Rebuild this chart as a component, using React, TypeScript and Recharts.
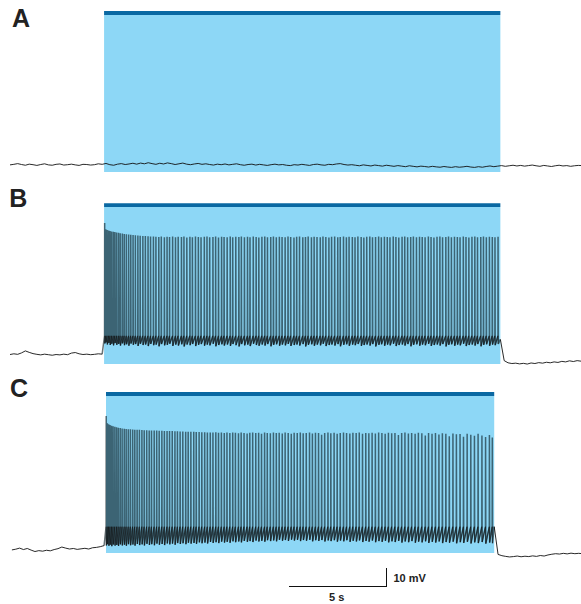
import React from "react";
import { ComposedChart, Line, XAxis, YAxis, ReferenceArea } from "recharts";

// Three current-clamp recordings, each with a 20 s stimulation window.
// Time in seconds, membrane potential in mV.

const STEP = 0.2; // sampling step of the resting stretches

// A: no firing, whole sweep sampled every STEP from t = 0
const traceA = [
  -61.6, -61.3, -60.9, -61.4, -61.8, -61.2, -61.5, -61.9, -61.4, -61.0,
  -61.6, -61.8, -61.3, -61.1, -61.7, -61.5, -61.2, -61.6, -61.9, -61.3,
  -61.4, -61.7, -61.5, -61.0, -61.3, -60.8, -61.5, -61.8, -61.2, -60.9,
  -61.4, -61.1, -60.7, -61.2, -60.6, -61.0, -60.4, -60.9, -61.3, -60.7,
  -61.1, -60.5, -60.9, -61.4, -61.0, -60.6, -61.2, -61.5, -61.1, -60.8,
  -61.3, -61.0, -61.4, -61.7, -61.2, -61.5, -61.1, -61.6, -61.3, -61.0,
  -61.5, -61.8, -61.4, -61.2, -61.7, -61.3, -61.6, -61.9, -61.5, -61.2,
  -61.6, -61.4, -61.8, -62.0, -61.5, -61.7, -61.3, -61.6, -61.9, -61.4,
  -61.2, -61.6, -61.8, -61.3, -61.5, -61.1, -60.9, -61.4, -61.7, -61.5,
  -61.8, -62.1, -61.6, -61.9, -62.2, -61.7, -62.0, -62.3, -61.8, -62.1,
  -62.4, -62.0, -62.3, -62.6, -62.1, -62.4, -62.7, -62.3, -62.5, -62.8,
  -62.4, -62.7, -62.9, -62.5, -62.8, -63.0, -62.6, -62.9, -62.7, -62.4,
  -62.8, -63.0, -62.6, -62.9, -62.5, -62.2, -62.6, -62.3, -62.0, -62.4,
  -62.1, -61.8, -62.2, -61.9, -62.3, -62.0, -61.7, -62.1, -62.4, -61.9,
  -62.2, -62.5, -62.1, -61.8, -62.2, -62.0, -62.4, -62.1, -61.9, -62.0,
];

// B: resting before the stimulus (from t = 0)
const preStartB = 0;
const preB = [
  -61.4, -61.0, -61.3, -60.5, -59.4, -60.2, -60.9, -61.3, -61.6, -61.2,
  -61.5, -61.8, -61.4, -61.6, -61.2, -61.5, -60.6, -60.3, -61.0, -61.4,
  -61.2, -61.5, -61.3, -61.0, -61.2,
];
const thresholdB = -51;
// [time, peak, after-hyperpolarisation]
const spikesB: [number, number, number][] = [
  [4.93, 11.7, -55.2], [4.99, 8.2, -54.6], [5.06, 7.8, -55.8], [5.14, 7.5, -54.9], [5.21, 7.2, -56.1],
  [5.29, 7.0, -55.4], [5.38, 6.8, -56.3], [5.46, 6.6, -55.0], [5.55, 6.4, -56.0], [5.65, 6.2, -55.5],
  [5.74, 6.0, -56.4], [5.85, 5.8, -55.2], [5.95, 5.6, -56.2], [6.06, 5.4, -55.7], [6.18, 5.3, -56.5],
  [6.29, 5.1, -55.3], [6.41, 5.0, -56.0], [6.53, 4.9, -55.6], [6.66, 4.7, -56.6], [6.78, 4.6, -55.4],
  [6.92, 4.5, -56.1], [7.05, 4.4, -55.8], [7.19, 4.3, -56.7], [7.32, 4.2, -55.5], [7.47, 4.1, -56.2],
  [7.60, 4.0, -55.9], [7.75, 3.9, -56.8], [7.88, 4.1, -55.6], [8.04, 3.8, -56.3], [8.18, 4.0, -56.0],
  [8.31, 3.9, -55.4], [8.47, 4.2, -56.6], [8.62, 3.7, -55.9], [8.76, 4.0, -56.4], [8.93, 3.9, -55.7],
  [9.06, 4.1, -56.9], [9.21, 3.6, -55.8], [9.37, 4.0, -56.2], [9.50, 3.8, -55.5], [9.66, 4.2, -56.7],
  [9.81, 3.9, -56.0], [9.95, 3.7, -55.6], [10.12, 4.0, -56.5], [10.26, 4.1, -55.9], [10.40, 3.8, -56.3],
  [10.57, 3.9, -55.4], [10.71, 4.2, -56.8], [10.86, 3.6, -56.1], [11.02, 4.0, -55.7], [11.15, 3.9, -56.4],
  [11.31, 3.7, -55.8], [11.47, 4.1, -56.6], [11.60, 3.8, -55.5], [11.76, 4.0, -56.2], [11.92, 3.9, -56.9],
  [12.05, 4.2, -55.6], [12.21, 3.7, -56.3], [12.37, 4.0, -55.9], [12.50, 3.8, -56.7], [12.67, 4.1, -55.4],
  [12.82, 3.9, -56.1], [12.96, 3.6, -56.5], [13.12, 4.0, -55.8], [13.27, 4.1, -56.4], [13.41, 3.8, -55.6],
  [13.58, 3.9, -56.8], [13.72, 4.2, -56.0], [13.87, 3.7, -55.7], [14.03, 4.0, -56.5], [14.17, 3.9, -55.9],
  [14.33, 3.8, -56.3], [14.48, 4.1, -55.5], [14.62, 3.9, -56.6], [14.79, 3.6, -56.1], [14.93, 4.0, -55.8],
  [15.08, 4.2, -56.4], [15.25, 3.8, -55.6], [15.39, 3.9, -56.9], [15.53, 4.1, -56.0], [15.70, 3.7, -55.7],
  [15.84, 4.0, -56.5], [15.99, 3.9, -55.9], [16.16, 3.8, -56.3], [16.30, 4.1, -55.4], [16.45, 3.9, -56.7],
  [16.61, 3.6, -56.1], [16.75, 4.0, -55.8], [16.91, 4.2, -56.4], [17.07, 3.8, -55.6], [17.20, 3.9, -56.8],
  [17.37, 4.1, -56.0], [17.52, 3.7, -55.7], [17.66, 4.0, -56.5], [17.83, 3.9, -55.9], [17.97, 3.8, -56.2],
  [18.12, 4.1, -55.5], [18.29, 3.9, -56.6], [18.43, 3.6, -56.1], [18.58, 4.0, -55.8], [18.74, 4.2, -56.4],
  [18.88, 3.8, -55.6], [19.04, 3.9, -56.9], [19.20, 4.1, -56.0], [19.34, 3.7, -55.7], [19.50, 4.0, -56.5],
  [19.65, 3.9, -55.9], [19.79, 3.8, -56.3], [19.96, 4.1, -55.4], [20.10, 3.9, -56.7], [20.25, 3.6, -56.1],
  [20.42, 4.0, -55.8], [20.56, 4.2, -56.4], [20.71, 3.8, -55.6], [20.87, 3.9, -56.8], [21.01, 4.1, -56.0],
  [21.17, 3.7, -55.7], [21.33, 4.0, -56.5], [21.47, 3.9, -55.9], [21.62, 3.8, -56.2], [21.79, 4.1, -55.5],
  [21.93, 3.9, -56.6], [22.08, 3.6, -56.1], [22.24, 4.0, -55.8], [22.39, 4.2, -56.4], [22.53, 3.8, -55.6],
  [22.70, 3.9, -56.9], [22.84, 4.1, -56.0], [22.99, 3.7, -55.7], [23.15, 4.0, -56.5], [23.30, 3.9, -55.9],
  [23.44, 3.8, -56.3], [23.61, 4.1, -55.4], [23.75, 3.9, -56.7], [23.90, 3.6, -56.1], [24.06, 4.0, -55.8],
  [24.21, 4.2, -56.4], [24.35, 3.8, -55.6], [24.52, 3.9, -56.8], [24.66, 4.1, -56.0], [24.81, 3.7, -55.7],
  [24.97, 4.0, -56.5], [25.12, 3.9, -55.9], [25.26, 3.8, -56.2], [25.42, 4.0, -55.5],
];
// B: after the stimulus (from stimulus offset)
const postStartB = 25.54;
const postB = [
  -53.0, -64.8, -66.0, -66.4, -66.2, -66.6, -66.3, -66.7, -66.1, -66.4, -65.9,
  -66.2, -65.7, -66.0, -65.5, -65.8, -65.2, -65.5, -64.9, -65.3, -64.8, -65.1,
];

// C
const preStartC = 0.1;
const preC = [
  -64.4, -64.0, -63.4, -64.2, -63.6, -64.5, -65.3, -64.8, -65.1, -64.6,
  -64.9, -64.2, -63.7, -62.8, -63.4, -63.9, -63.6, -64.1, -63.8, -63.5,
  -63.9, -63.2, -63.0, -62.6, -62.0,
];
const thresholdC = -51.5;
const spikesC: [number, number, number][] = [
  [5.01, 10.0, -61.9], [5.07, 6.0, -61.2], [5.14, 5.4, -62.1], [5.21, 5.0, -61.5], [5.29, 4.6, -62.3],
  [5.37, 4.3, -61.4], [5.46, 4.0, -62.0], [5.55, 3.7, -61.6], [5.64, 3.5, -62.2], [5.74, 3.3, -61.3],
  [5.84, 3.1, -61.9], [5.95, 2.9, -61.5], [6.05, 2.8, -62.1], [6.16, 2.7, -61.2], [6.27, 2.6, -61.8],
  [6.39, 2.5, -61.4], [6.50, 2.4, -62.0], [6.62, 2.3, -61.1], [6.74, 2.3, -61.7], [6.87, 2.2, -61.3],
  [6.99, 2.1, -61.9], [7.12, 2.1, -61.0], [7.25, 2.0, -61.6], [7.37, 2.0, -61.2], [7.51, 1.9, -61.8],
  [7.64, 1.9, -60.9], [7.77, 1.8, -61.5], [7.91, 1.8, -61.1], [8.04, 1.7, -61.7], [8.18, 1.7, -60.8],
  [8.31, 1.6, -61.3], [8.45, 1.6, -60.9], [8.59, 1.5, -61.5], [8.72, 1.5, -60.6], [8.86, 1.4, -61.1],
  [9.00, 1.4, -60.7], [9.15, 1.3, -61.2], [9.28, 1.3, -60.4], [9.42, 1.2, -60.9], [9.57, 1.2, -60.5],
  [9.70, 1.1, -61.0], [9.85, 1.1, -60.2], [9.99, 1.0, -60.7], [10.14, 1.0, -60.3], [10.28, 0.9, -60.8],
  [10.43, 0.9, -60.0], [10.57, 0.8, -60.5], [10.72, 1.0, -60.1], [10.86, 0.7, -60.6], [11.01, 0.9, -59.8],
  [11.16, 0.6, -60.3], [11.30, 0.8, -59.9], [11.45, 0.5, -60.4], [11.60, 0.9, -59.6], [11.74, 0.7, -60.1],
  [11.90, 0.4, -59.7], [12.04, 0.8, -60.2], [12.19, 0.6, -59.4], [12.35, 0.3, -59.9], [12.49, 0.7, -59.5],
  [12.64, 0.9, -60.0], [12.80, 0.5, -59.2], [12.95, 0.7, -59.7], [13.10, 0.2, -59.3], [13.26, 0.8, -59.8],
  [13.40, 0.6, -59.0], [13.56, 0.4, -59.5], [13.72, 0.9, -59.1], [13.87, 0.5, -59.6], [14.02, 0.7, -58.8],
  [14.18, 0.3, -59.3], [14.33, 0.8, -58.9], [14.49, 0.6, -59.4], [14.65, 0.2, -58.7], [14.80, 0.7, -59.2],
  [14.96, 0.5, -58.8], [15.12, 0.9, -59.5], [15.27, 0.4, -58.9], [15.43, 0.6, -59.3], [15.60, 0.8, -58.8],
  [15.75, 0.3, -59.6], [15.91, 0.7, -59.0], [16.07, 0.5, -59.4], [16.23, -0.4, -58.9], [16.39, 0.6, -59.7],
  [16.56, 0.8, -59.1], [16.71, 0.4, -59.5], [16.88, 0.7, -59.0], [17.04, 0.2, -59.8], [17.20, 0.6, -59.2],
  [17.37, 0.9, -59.6], [17.53, 0.5, -59.0], [17.70, 0.3, -59.9], [17.86, 0.7, -59.3], [18.03, 0.5, -59.7],
  [18.19, 0.8, -59.1], [18.36, 0.1, -60.0], [18.53, 0.6, -59.4], [18.69, 0.4, -59.8], [18.86, 0.7, -59.2],
  [19.03, 0.3, -60.1], [19.20, 0.8, -59.5], [19.37, 0.5, -59.9], [19.54, 0.2, -59.3], [19.71, 0.7, -60.2],
  [19.88, 0.4, -59.6], [20.05, 0.6, -60.0], [20.23, -0.6, -59.4], [20.40, 0.5, -60.3], [20.57, 0.8, -59.7],
  [20.75, 0.3, -60.1], [20.92, 0.6, -59.5], [21.10, 0.1, -60.4], [21.27, 0.7, -59.8], [21.45, 0.4, -60.2],
  [21.63, -0.9, -59.6], [21.80, 0.5, -60.5], [21.98, 0.2, -59.9], [22.16, 0.6, -60.3], [22.34, -0.3, -59.7],
  [22.52, 0.4, -60.6], [22.70, 0.1, -60.0], [22.88, -1.2, -60.4], [23.07, 0.3, -59.8], [23.25, -0.2, -60.7],
  [23.44, 0.0, -60.1], [23.62, -1.5, -60.5], [23.81, 0.2, -59.9], [24.00, -0.4, -60.8], [24.19, -1.0, -60.2],
  [24.38, 0.1, -60.6], [24.58, -0.8, -60.0], [24.77, -1.6, -60.9], [24.97, -0.5, -60.3], [25.12, -1.9, -60.7],
];
const postStartC = 25.22;
const postC = [
  -51.5, -66.9, -67.6, -68.0, -68.3, -68.1, -67.8, -68.2, -67.9, -68.1, -67.7, -68.0,
  -67.5, -67.8, -67.2, -66.8, -66.5, -66.7, -66.3, -66.6, -66.2, -66.5, -66.3, -66.5,
];

// v: resting stretches, s: firing stretch (drawn softer),
// b: interspike trough of the firing stretch (drawn dark)
type Pt = { t: number; v?: number; s?: number; b?: number };

function sampled(values: number[], start: number): Pt[] {
  return values.map((v, i) => ({ t: start + i * STEP, v }));
}

// rest -> spikes (threshold, peak, AHP) -> rest
function buildTrace(
  pre: number[], preStart: number,
  spikes: [number, number, number][], threshold: number,
  post: number[], postStart: number
): Pt[] {
  const before = sampled(pre, preStart);
  const after = sampled(post, postStart);
  const last = before[before.length - 1];
  const first = after[0];
  last.s = last.v;
  const firing: Pt[] = [];
  spikes.forEach(([t, peak, ahp]) => {
    firing.push({ t: t - 0.006, s: threshold, b: threshold });
    firing.push({ t, s: peak });
    firing.push({ t: t + 0.012, s: ahp, b: ahp });
  });
  first.s = first.v;
  return [...before, ...firing, ...after];
}

const W = 581;
const PANEL_H = 180;
const T_END = 29.74;

const panels = [
  { key: "A", top: 0, data: sampled(traceA, 0), stim: [4.9, 25.54], bar: [21.7, 23.9], floor: -65.6 },
  { key: "B", top: 190, data: buildTrace(preB, preStartB, spikesB, thresholdB, postB, postStartB), stim: [4.9, 25.54], bar: [20.5, 22.7], floor: -66.7 },
  { key: "C", top: 380, data: buildTrace(preC, preStartC, spikesC, thresholdC, postC, postStartC), stim: [5.0, 25.22], bar: [21.1, 23.3], floor: -66.1 },
];

const labels = [
  { text: "A", left: 12, top: 5.7 },
  { text: "B", left: 9.2, top: 185.7 },
  { text: "C", left: 9.9, top: 375.7 },
];

const font = "'Liberation Sans', Arial, sans-serif";

function Panel({ top, data, stim, bar, floor }: { top: number; data: Pt[]; stim: number[]; bar: number[]; floor: number }) {
  return (
    <div style={{ position: "absolute", left: 0, top, width: W, height: PANEL_H }}>
      <ComposedChart width={W} height={PANEL_H} data={data} margin={{ top: 0, right: 0, bottom: 0, left: 10 }}>
        <XAxis type="number" dataKey="t" domain={[0, T_END]} hide allowDataOverflow />
        <YAxis type="number" domain={[-70, 30]} hide allowDataOverflow />
        <ReferenceArea x1={stim[0]} x2={stim[1]} y1={floor} y2={bar[0]} fill="#8dd7f6" fillOpacity={1} stroke="none" />
        <ReferenceArea x1={stim[0]} x2={stim[1]} y1={bar[0]} y2={bar[1]} fill="#0a68a2" fillOpacity={1} stroke="none" />
        <Line
          type="linear"
          dataKey="s"
          stroke="#0b1d24"
          strokeOpacity={0.62}
          strokeWidth={1.5}
          dot={false}
          activeDot={false}
          isAnimationActive={false}
        />
        <Line
          type="linear"
          dataKey="b"
          stroke="#111"
          strokeOpacity={0.8}
          strokeWidth={0.8}
          connectNulls
          dot={false}
          activeDot={false}
          isAnimationActive={false}
        />
        <Line
          type="linear"
          dataKey="v"
          stroke="#111"
          strokeWidth={0.9}
          dot={false}
          activeDot={false}
          isAnimationActive={false}
        />
      </ComposedChart>
    </div>
  );
}

export default function App() {
  return (
    <div style={{ position: "absolute", left: 0, top: 0, width: W, height: 604, background: "#fff", fontFamily: font }}>
      {panels.map((p) => (
        <Panel key={p.key} top={p.top} data={p.data} stim={p.stim} bar={p.bar} floor={p.floor} />
      ))}
      {labels.map((l) => (
        <div key={l.text} style={{ position: "absolute", left: l.left, top: l.top, fontSize: 25, fontWeight: 700, lineHeight: 1, color: "#222" }}>
          {l.text}
        </div>
      ))}
      {/* scale bar: 5 s x 10 mV */}
      <div style={{ position: "absolute", left: 289, top: 585.5, width: 98, height: 1.5, background: "#111" }} />
      <div style={{ position: "absolute", left: 385.5, top: 568, width: 1.5, height: 19, background: "#111" }} />
      <div style={{ position: "absolute", left: 393.5, top: 573, fontSize: 11, fontWeight: 700, lineHeight: 1, color: "#222" }}>10 mV</div>
      <div style={{ position: "absolute", left: 329, top: 591.7, fontSize: 11, fontWeight: 700, lineHeight: 1, color: "#222" }}>5 s</div>
    </div>
  );
}
